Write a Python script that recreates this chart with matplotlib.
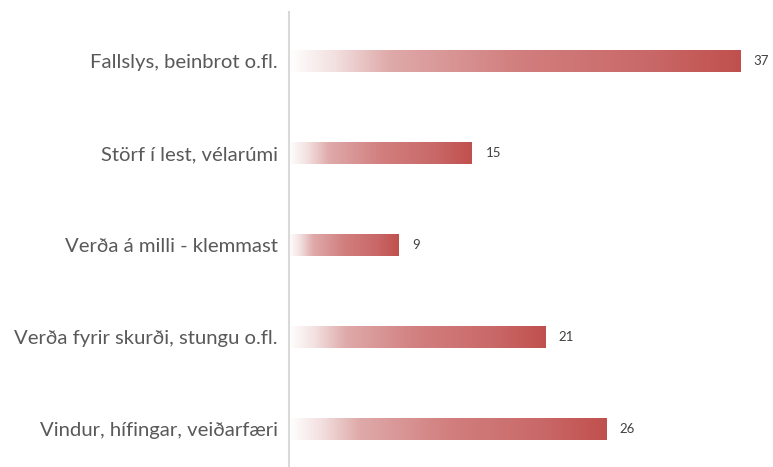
import numpy as np
import matplotlib.pyplot as plt
from matplotlib.colors import LinearSegmentedColormap

# gögn
flokkar = ['Fallslys, beinbrot o.fl.', 'Störf í lest, vélarúmi',
           'Verða á milli - klemmast', 'Verða fyrir skurði, stungu o.fl.',
           'Vindur, hífingar, veiðarfæri']
gildi = [37, 15, 9, 21, 26]

# litur frá hvítu yfir í rauðan
cmap = LinearSegmentedColormap.from_list('rautt', [
    (0.0, '#ffffff'), (0.1, '#f3e0e0'), (0.22, '#dfaaaa'),
    (0.5, '#d27f7f'), (0.8, '#c96868'), (1.0, '#c0504d')])

fig = plt.figure(figsize=(7.73, 4.67), dpi=100)
ax = fig.add_axes([289/773, 0, 484/773, 455/467])

h = 0.23
grad = np.linspace(0, 1, 256).reshape(1, -1)
for i, v in enumerate(gildi):
    ax.imshow(grad, cmap=cmap, aspect='auto', interpolation='bilinear',
              extent=[0, v, i + h/2, i - h/2])
    ax.text(v + 1.1, i, str(v), va='center', ha='left', fontsize=9.5,
            color='#404040', family='Lato')

ax.set_xlim(0, 484/12.2)
ax.set_ylim(4.41, -0.533)
ax.set_yticks(range(len(flokkar)))
ax.set_yticklabels(flokkar, fontsize=14.6, color='#595959', family='Lato')
ax.tick_params(axis='y', length=0, pad=8)
ax.set_xticks([])
for s in ['top', 'right', 'bottom']:
    ax.spines[s].set_visible(False)
ax.spines['left'].set_color('#d9d9d9')
ax.spines['left'].set_linewidth(1.5)

fig.savefig('out.png', dpi=100)
